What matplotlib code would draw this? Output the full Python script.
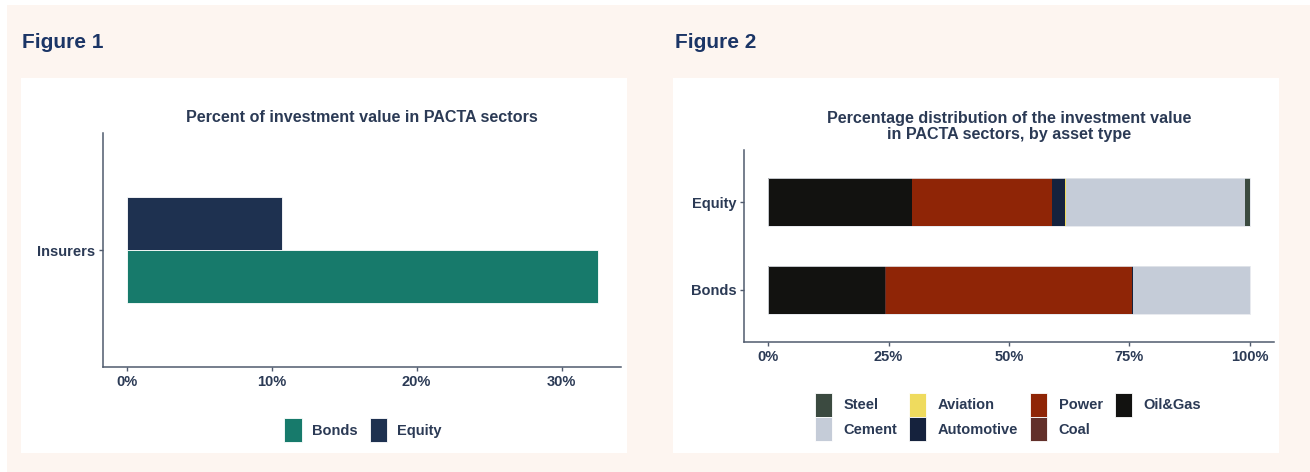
import matplotlib
matplotlib.use("Agg")
import matplotlib.pyplot as plt
from matplotlib.patches import Rectangle, Patch
import numpy as np

plt.rcParams['font.family'] = ['Liberation Sans', 'DejaVu Sans']
plt.rcParams['font.weight'] = 'bold'

# ---------------- data ----------------
fig1_category = ["Insurers"]
fig1_series = ["Bonds", "Equity"]
fig1_bonds = [32.5]
fig1_equity = [10.7]
fig1_ticks = [0, 10, 20, 30]

fig2_assets = ["Bonds", "Equity"]
# stacking order left -> right
fig2_sectors_stack = ["Oil&Gas", "Coal", "Power", "Automotive", "Aviation", "Cement", "Steel"]
fig2_bonds = [24.3, 0.1, 51.2, 0.2, 0.0, 24.2, 0.0]
fig2_equity = [29.9, 0.0, 29.0, 2.8, 0.1, 37.1, 1.1]
fig2_legend_order = ["Steel", "Cement", "Aviation", "Automotive", "Power", "Coal", "Oil&Gas"]
fig2_ticks = [0, 25, 50, 75, 100]

# ---------------- styles ----------------
W, H = 1310, 472
CREAM = '#fdf5f0'
TXT = '#2b3a55'
HEAD = '#1b3566'
AXC = '#505b6e'
fig1_colors = {"Bonds": '#177a6b', "Equity": '#1e3150'}
fig2_colors = {"Steel": '#3b4a40', "Aviation": '#efdb5e', "Power": '#8f2506',
               "Oil&Gas": '#121210', "Cement": '#c5ccd8', "Automotive": '#15223d',
               "Coal": '#62302a'}

fig = plt.figure(figsize=(W / 100, H / 100), dpi=100)
fig.patch.set_facecolor('white')

def px_rect(x0, y0, x1, y1, color, z=-5):
    fig.patches.append(Rectangle((x0 / W, 1 - y1 / H), (x1 - x0) / W, (y1 - y0) / H,
                                 transform=fig.transFigure, facecolor=color,
                                 edgecolor='none', zorder=z))

px_rect(7, 5, W, H, CREAM, -6)
px_rect(20.7, 78, 627, 452.7, 'white', -5)
px_rect(673, 78, 1279, 452.7, 'white', -5)

fig.text(22 / W, 1 - 42 / H, "Figure 1", fontsize=15, color=HEAD, fontweight='bold',
         va='center', ha='left')
fig.text(675 / W, 1 - 42 / H, "Figure 2", fontsize=15, color=HEAD, fontweight='bold',
         va='center', ha='left')

def add_px_axes(x0, y0, x1, y1):
    ax = fig.add_axes([x0 / W, 1 - y1 / H, (x1 - x0) / W, (y1 - y0) / H])
    ax.set_facecolor('none')
    ax.set_zorder(2)
    for s in ['top', 'right']:
        ax.spines[s].set_visible(False)
    for s in ['left', 'bottom']:
        ax.spines[s].set_color(AXC)
        ax.spines[s].set_linewidth(1.1)
    ax.tick_params(axis='both', colors=AXC, length=3, width=1, labelcolor=TXT,
                   labelsize=10.5, pad=2.5)
    return ax

# ---------------- Figure 1 ----------------
ax1 = add_px_axes(103, 133, 621, 367)
ypos = np.arange(len(fig1_category)) + 1.0
bw = 0.45
ax1.barh(ypos + bw / 2, fig1_equity, height=bw, color=fig1_colors["Equity"],
         edgecolor='white', linewidth=0.6)
ax1.barh(ypos - bw / 2, fig1_bonds, height=bw, color=fig1_colors["Bonds"],
         edgecolor='white', linewidth=0.6)
ax1.set_xlim(-1.625, 34.1)
ax1.set_ylim(0.0, 2.0)
ax1.set_xticks(fig1_ticks)
ax1.set_xticklabels([f"{t}%" for t in fig1_ticks], fontweight='bold')
ax1.set_yticks(ypos)
ax1.set_yticklabels(fig1_category, fontweight='bold')
fig.text(362 / W, 1 - 118 / H, "Percent of investment value in PACTA sectors",
         fontsize=11.6, color=TXT, fontweight='bold', ha='center', va='center')

h1 = [Patch(facecolor=fig1_colors[s], edgecolor='white', linewidth=0.6) for s in fig1_series]
leg1 = fig.legend(h1, fig1_series, loc='center', bbox_to_anchor=(363 / W, 1 - 430 / H),
                  ncol=2, frameon=False, fontsize=10.5, handlelength=1.17, handleheight=2.17,
                  handletextpad=0.7, columnspacing=0.85, borderpad=0, borderaxespad=0)
for t in leg1.get_texts():
    t.set_color(TXT)
    t.set_fontweight('bold')

# ---------------- Figure 2 ----------------
ax2 = add_px_axes(744, 150, 1274, 342)
ypos2 = np.arange(len(fig2_assets)) + 1.0
bw2 = 0.55
data2 = np.array([fig2_bonds, fig2_equity])
left = np.zeros(len(fig2_assets))
for j, sec in enumerate(fig2_sectors_stack):
    vals = data2[:, j]
    ax2.barh(ypos2, vals, left=left, height=bw2, color=fig2_colors[sec],
             edgecolor='none', linewidth=0)
    left = left + vals
# thin outline around each whole bar
ax2.barh(ypos2, left, height=bw2, facecolor='none', edgecolor='#e4e7ec', linewidth=0.6)
ax2.set_xlim(-5, 105)
ax2.set_ylim(0.4, 2.6)
ax2.set_xticks(fig2_ticks)
ax2.set_xticklabels([f"{t}%" for t in fig2_ticks], fontweight='bold')
ax2.set_yticks(ypos2)
ax2.set_yticklabels(fig2_assets, fontweight='bold')
fig.text(1009 / W, 1 - 126.5 / H,
         "Percentage distribution of the investment value\nin PACTA sectors, by asset type",
         fontsize=11.6, color=TXT, fontweight='bold', ha='center', va='center',
         linespacing=1.12)

h2 = [Patch(facecolor=fig2_colors[s], edgecolor='white', linewidth=0.6) for s in fig2_legend_order]
leg2 = fig.legend(h2, fig2_legend_order, loc='center', bbox_to_anchor=(1008 / W, 1 - 417 / H),
                  ncol=4, frameon=False, fontsize=10.5, handlelength=1.17, handleheight=2.17,
                  handletextpad=0.8, columnspacing=0.8, labelspacing=0.0,
                  borderpad=0, borderaxespad=0)
for t in leg2.get_texts():
    t.set_color(TXT)
    t.set_fontweight('bold')

fig.savefig("out.png", dpi=100, facecolor=fig.get_facecolor())
